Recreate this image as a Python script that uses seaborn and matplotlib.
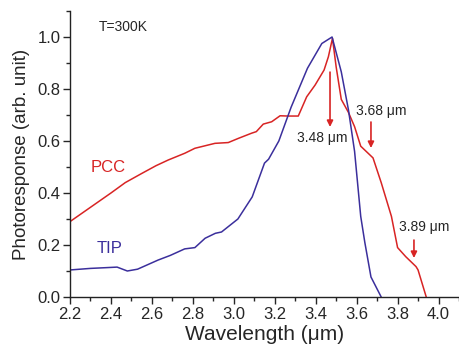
import pandas as pd
import seaborn as sb
import matplotlib.pyplot as plt
from matplotlib.ticker import MultipleLocator

# PCC (red) spectrum
pcc_wl = [2.20, 2.30, 2.40, 2.47, 2.55, 2.62, 2.68, 2.761, 2.81, 2.908, 2.973,
          3.022, 3.087, 3.11, 3.144, 3.185, 3.226, 3.266, 3.315, 3.356, 3.397,
          3.441, 3.462, 3.482, 3.50, 3.525, 3.56, 3.59, 3.62, 3.66, 3.68,
          3.72, 3.77, 3.80, 3.84, 3.89, 3.90, 3.94]
pcc_resp = [0.29, 0.345, 0.40, 0.44, 0.475, 0.505, 0.527, 0.553, 0.572, 0.591, 0.594,
            0.610, 0.630, 0.636, 0.665, 0.674, 0.697, 0.696, 0.696, 0.77, 0.815,
            0.873, 0.924, 0.995, 0.885, 0.76, 0.71, 0.655, 0.58, 0.55, 0.535,
            0.44, 0.31, 0.19, 0.155, 0.117, 0.104, 0.0]

# TIP (blue) spectrum
tip_wl = [2.20, 2.30, 2.38, 2.43, 2.48, 2.53, 2.63, 2.69, 2.76, 2.81, 2.86,
          2.91, 2.94, 3.02, 3.09, 3.15, 3.17, 3.22, 3.28, 3.36, 3.43, 3.48,
          3.525, 3.56, 3.59, 3.62, 3.64, 3.67, 3.72]
tip_resp = [0.104, 0.11, 0.113, 0.115, 0.10, 0.107, 0.142, 0.16, 0.185, 0.19, 0.226,
            0.245, 0.25, 0.30, 0.385, 0.515, 0.53, 0.60, 0.73, 0.88, 0.975, 1.0,
            0.866, 0.72, 0.56, 0.31, 0.21, 0.077, 0.0]

# arrows marking the features, and their labels
peak_wl = [3.47, 3.67, 3.88]
arrow_top = [0.865, 0.673, 0.219]
arrow_tip = [0.654, 0.573, 0.150]
peak_labels = ['3.48 \u03bcm', '3.68 \u03bcm', '3.89 \u03bcm']
label_x = [3.43, 3.72, 3.93]
label_y = [0.61, 0.715, 0.27]

red = '#d82424'
blue = '#3b2f9c'

sb.set_style('ticks')
plt.rcParams['font.family'] = ['Liberation Sans', 'DejaVu Sans']

fig = plt.figure(figsize=(4.59, 3.58), dpi=100)
ax = fig.add_axes([70 / 459, 1 - 297 / 358, 1 - 70 / 459, (297 - 11) / 358])

pcc = pd.DataFrame({'wl': pcc_wl, 'resp': pcc_resp})
tip = pd.DataFrame({'wl': tip_wl, 'resp': tip_resp})
sb.lineplot(x='wl', y='resp', data=pcc, color=red, lw=1.1, ax=ax, sort=False)
sb.lineplot(x='wl', y='resp', data=tip, color=blue, lw=1.1, ax=ax, sort=False)

ax.set_xlim(2.2, 4.1)
ax.set_ylim(0, 1.1)
ax.xaxis.set_minor_locator(MultipleLocator(0.1))
ax.yaxis.set_major_locator(MultipleLocator(0.2))
ax.yaxis.set_minor_locator(MultipleLocator(0.1))
ax.set_xticks([2.2, 2.4, 2.6, 2.8, 3.0, 3.2, 3.4, 3.6, 3.8, 4.0])
ax.set_xticklabels(['2.2', '2.4', '2.6', '2.8', '3.0', '3.2', '3.4', '3.6', '3.8', '4.0'])
ax.tick_params(which='major', direction='out', length=5, width=1, labelsize=12, pad=2)
ax.tick_params(which='minor', direction='out', length=3, width=1)
for side in ['top', 'right']:
    ax.spines[side].set_visible(False)
for side in ['left', 'bottom']:
    ax.spines[side].set_color('#222222')
    ax.spines[side].set_linewidth(1)

ax.set_xlabel('Wavelength (\u03bcm)', fontsize=15, labelpad=2)
ax.set_ylabel('Photoresponse (arb. unit)', fontsize=13.5, labelpad=5)

ax.text(2.34, 1.04, 'T=300K', fontsize=10, va='center', ha='left')
ax.text(2.30, 0.50, 'PCC', fontsize=12, color=red, va='center', ha='left')
ax.text(2.33, 0.185, 'TIP', fontsize=12, color=blue, va='center', ha='left')

for x, y0, y1, lab, lx, ly in zip(peak_wl, arrow_top, arrow_tip, peak_labels, label_x, label_y):
    ax.annotate('', xy=(x, y1), xytext=(x, y0),
                arrowprops=dict(arrowstyle='-|>', color=red, lw=1.2, mutation_scale=9,
                                shrinkA=0, shrinkB=0))
    ax.text(lx, ly, lab, fontsize=10, va='center', ha='center')

plt.savefig('out.png', dpi=100)
plt.close(fig)
